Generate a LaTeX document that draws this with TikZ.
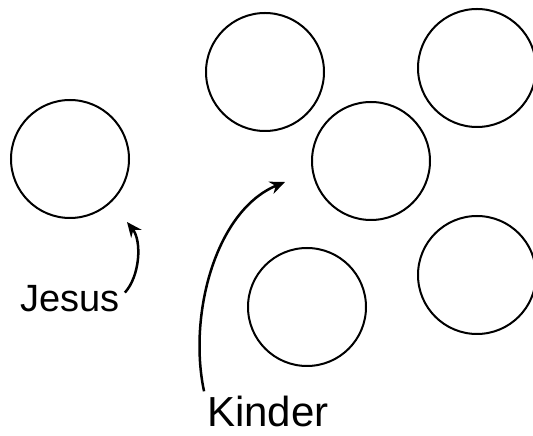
\documentclass[tikz,border=0pt]{standalone}
\usepackage{fontspec}
\setmainfont{Liberation Sans}
\usetikzlibrary{arrows.meta}
\begin{document}
\begin{tikzpicture}[x=1pt, y=1pt, >={Stealth[length=15pt, width=13pt]}, line width=2.5pt,
  kind/.style={circle, draw, line width=2pt, minimum size=118pt, inner sep=0pt},
  beschriftung/.style={font=\fontsize{38}{42}\selectfont, inner sep=0pt, anchor=base}]
  \useasboundingbox (0,0) rectangle (533,436);
  % Kreise
  \node[kind] (jesuskreis) at (70,277) {};
  \node[kind] (k1) at (265,364) {};
  \node[kind] (k2) at (477,368) {};
  \node[kind] (k3) at (371,275) {};
  \node[kind] (k4) at (307,129) {};
  \node[kind] (k5) at (477,161) {};

  % Beschriftungen
  \node[beschriftung] (jesus) at (70,124) {Jesus};
  \node[beschriftung, font=\fontsize{42}{46}\selectfont] (kinder) at (268,9) {Kinder};

  \coordinate (zieljesus) at (127,214);
  \coordinate (zielkinder) at (285,254);
  \draw[->] (jesus.north east) ++(4,-8) .. controls (140,160) and (142,195) .. (zieljesus);
  \draw[->] (kinder.north west) ++(-2,4) .. controls (188,120) and (215,225) .. (zielkinder);
\end{tikzpicture}
\end{document}
